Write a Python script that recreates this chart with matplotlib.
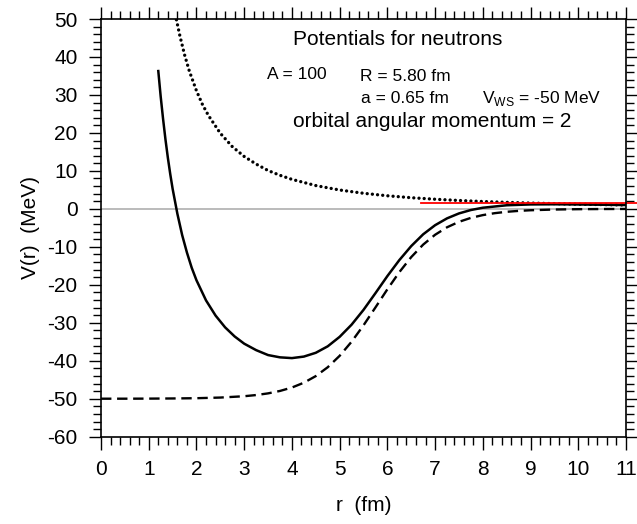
import numpy as np
import matplotlib.pyplot as plt
from matplotlib.ticker import MultipleLocator

plt.rcParams['font.family'] = ['Liberation Sans', 'DejaVu Sans']
plt.rcParams['axes.unicode_minus'] = False

# Woods-Saxon potential (dashed)
r_ws = [0.0, 0.5, 1.0, 1.5, 2.0, 2.5, 3.0, 3.25, 3.5, 3.75, 4.0, 4.25, 4.5, 4.75,
        5.0, 5.25, 5.5, 5.75, 6.0, 6.25, 6.5, 6.75, 7.0, 7.25, 7.5, 7.75, 8.0,
        8.25, 8.5, 8.75, 9.0, 9.5, 10.0, 10.5, 11.0]
v_ws = [-49.99, -49.99, -49.97, -49.93, -49.86, -49.69, -49.34, -49.03, -48.59,
        -47.95, -47.05, -45.78, -44.04, -41.71, -38.70, -34.99, -30.67, -25.96,
        -21.18, -16.68, -12.70, -9.41, -6.82, -4.85, -3.41, -2.37, -1.64, -1.13,
        -0.77, -0.53, -0.36, -0.17, -0.08, -0.04, -0.02]

# centrifugal term (dotted)
r_cf = [1.58, 1.65, 1.75, 1.85, 2.0, 2.125, 2.25, 2.5, 2.75, 3.0, 3.25, 3.5, 3.75,
        4.0, 4.5, 5.0, 5.5, 6.0, 6.5, 7.0, 7.5, 8.0, 8.5, 9.0, 9.5, 10.0, 10.5, 11.0]
v_cf = [49.8, 45.7, 40.6, 36.3, 31.1, 27.5, 24.6, 19.9, 16.4, 13.8, 11.8, 10.1, 8.84,
        7.77, 6.14, 4.97, 4.11, 3.45, 2.94, 2.54, 2.21, 1.94, 1.72, 1.53, 1.38,
        1.24, 1.13, 1.03]

# total potential (solid)
r_tot = [1.2, 1.25, 1.3, 1.35, 1.4, 1.45, 1.5, 1.6, 1.7, 1.8, 1.9, 2.0, 2.2, 2.4,
         2.6, 2.8, 3.0, 3.25, 3.5, 3.75, 4.0, 4.25, 4.5, 4.75, 5.0, 5.25, 5.5,
         5.75, 6.0, 6.25, 6.5, 6.75, 7.0, 7.25, 7.5, 7.75, 8.0, 8.5, 9.0, 9.5,
         10.0, 10.5, 11.0]
v_tot = [36.3, 29.6, 23.7, 18.3, 13.5, 9.2, 5.3, -1.3, -6.9, -11.5, -15.5, -18.8,
         -24.1, -28.1, -31.2, -33.6, -35.5, -37.2, -38.5, -39.1, -39.3, -38.9,
         -37.9, -36.2, -33.7, -30.5, -26.6, -22.2, -17.7, -13.5, -9.8, -6.7, -4.3,
         -2.5, -1.2, -0.3, 0.3, 0.95, 1.17, 1.21, 1.16, 1.09, 1.01]

# red level line
r_red = [6.7, 11.25]
v_red = [1.42, 1.42]

fig = plt.figure(figsize=(6.37, 5.24), dpi=100)
ax = fig.add_axes([0.1586, 0.1666, 0.8241, 0.7971])

ax.axhline(0, color='#a8a8a8', linewidth=1.1, zorder=1)
ax.plot(r_ws, v_ws, color='black', linewidth=1.7, linestyle=(0, (4.4, 2.4)))
ax.plot(r_cf, v_cf, color='black', linewidth=2.4, linestyle=(0, (0.01, 1.55)),
        dash_capstyle='round')
ax.plot(r_tot, v_tot, color='black', linewidth=1.8)
ax.plot(r_red, v_red, color='red', linewidth=1.3, clip_on=False)

ax.set_xlim(0, 11)
ax.set_ylim(-60, 50)
ax.xaxis.set_major_locator(MultipleLocator(1))
ax.xaxis.set_minor_locator(MultipleLocator(0.2))
ax.yaxis.set_major_locator(MultipleLocator(10))
ax.yaxis.set_minor_locator(MultipleLocator(2))
ax.tick_params(which='both', direction='out', top=True, right=True,
               labelsize=15, width=1.0, pad=8)
ax.tick_params(which='major', length=9)
ax.tick_params(which='minor', length=5.5)
for s in ax.spines.values():
    s.set_linewidth(1.2)

ax.set_xlabel('r  (fm)', fontsize=15, labelpad=12)
ax.set_ylabel('V(r)  (MeV)', fontsize=15, labelpad=5)

ax.text(0.365, 0.950, 'Potentials for neutrons', transform=ax.transAxes,
        fontsize=15, va='center', ha='left')
ax.text(0.316, 0.867, 'A = 100', transform=ax.transAxes, fontsize=12.5, va='center')
ax.text(0.493, 0.863, 'R = 5.80 fm', transform=ax.transAxes, fontsize=12.5, va='center')
ax.text(0.496, 0.810, 'a = 0.65 fm', transform=ax.transAxes, fontsize=12.5, va='center')
ax.text(0.725, 0.810, r'V$_{\mathregular{WS}}$ = -50 MeV', transform=ax.transAxes,
        fontsize=12.5, va='center')
ax.text(0.365, 0.754, 'orbital angular momentum = 2', transform=ax.transAxes,
        fontsize=15, va='center')

fig.savefig('out.png', dpi=100)
